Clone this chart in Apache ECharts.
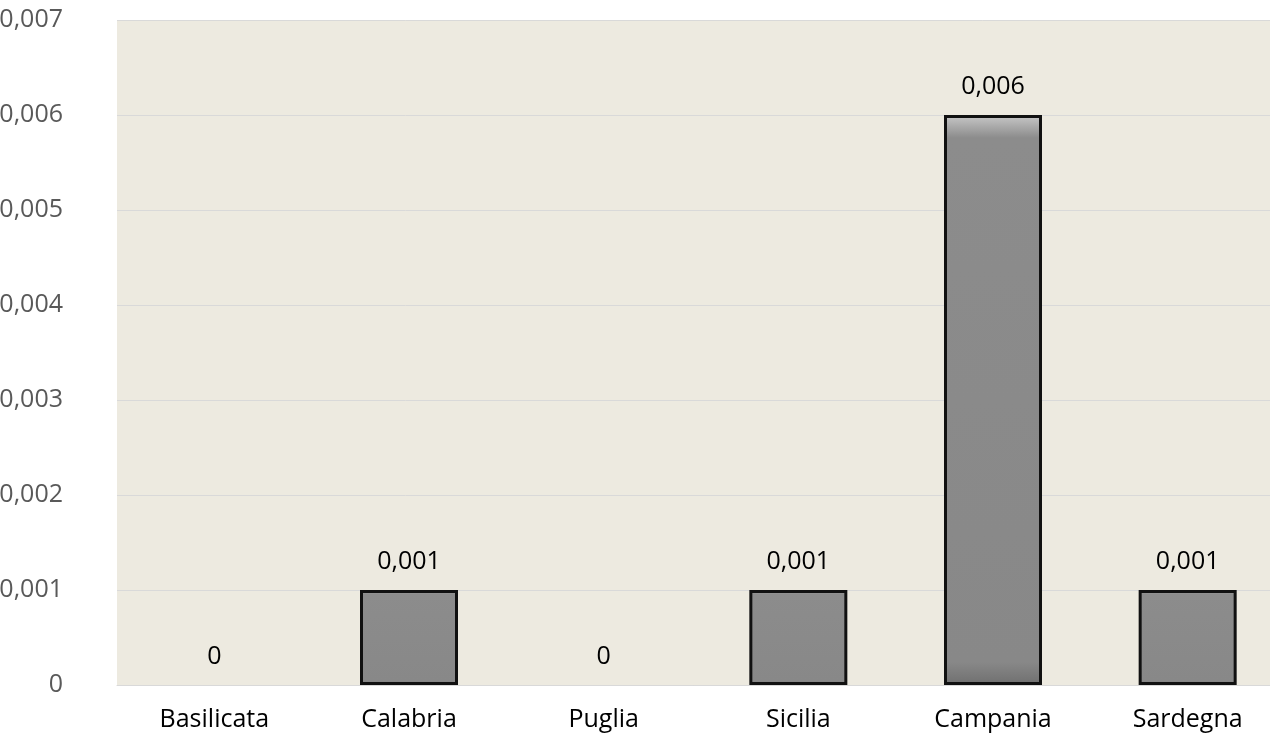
<!DOCTYPE html>
<html><head><meta charset="utf-8">
<script src="https://cdn.jsdelivr.net/npm/echarts@6/dist/echarts.min.js"></script>
<style>html,body{margin:0;padding:0;background:#fff;overflow:hidden}#c{width:1270px;height:743px}</style>
</head><body><div id="c"></div>
<script>
const categories = ['Basilicata','Calabria','Puglia','Sicilia','Campania','Sardegna'];
const values = [0, 0.001, 0, 0.001, 0.006, 0.001];
const fmt = v => String(v).replace('.', ',');
const chart = echarts.init(document.getElementById('c'), null, {renderer:'canvas'});
chart.setOption({
  animation:false,
  backgroundColor:'#ffffff',
  textStyle:{fontFamily:'Open Sans'},
  grid:{left:117,width:1168,top:20,bottom:58,show:true,backgroundColor:'#EDEAE0',borderWidth:0,outerBoundsMode:'none',containLabel:false},
  xAxis:{type:'category',data:categories,
    axisLine:{lineStyle:{color:'#d9d9d9',width:1}},axisTick:{show:false},
    axisLabel:{color:'#000',fontSize:25,fontFamily:'Open Sans',margin:22}},
  yAxis:{type:'value',min:0,max:0.007,interval:0.001,
    axisLine:{show:false},axisTick:{show:false},
    splitLine:{lineStyle:{color:'#d9d9d9',width:1}},
    axisLabel:{color:'#595959',fontSize:25,fontFamily:'Open Sans',margin:54,formatter:v=>fmt(+v.toFixed(3))}},
  series:[{type:'bar',barWidth:98,
    data:values.map(v=>({value:v,itemStyle:v===0?{borderWidth:0,opacity:0}:{}})),
    itemStyle:{color:{type:'linear',x:0,y:0,x2:0,y2:1,colorStops:[{offset:0,color:'#c8c8c8'},{offset:0.04,color:'#8c8c8c'},{offset:0.96,color:'#888888'},{offset:1,color:'#6f6f6f'}]},borderColor:'#111',borderWidth:3},
    label:{show:true,position:'top',distance:16,color:'#000',fontSize:25,fontFamily:'Open Sans',opacity:1,formatter:p=>fmt(p.value)}}]
});
</script></body></html>
